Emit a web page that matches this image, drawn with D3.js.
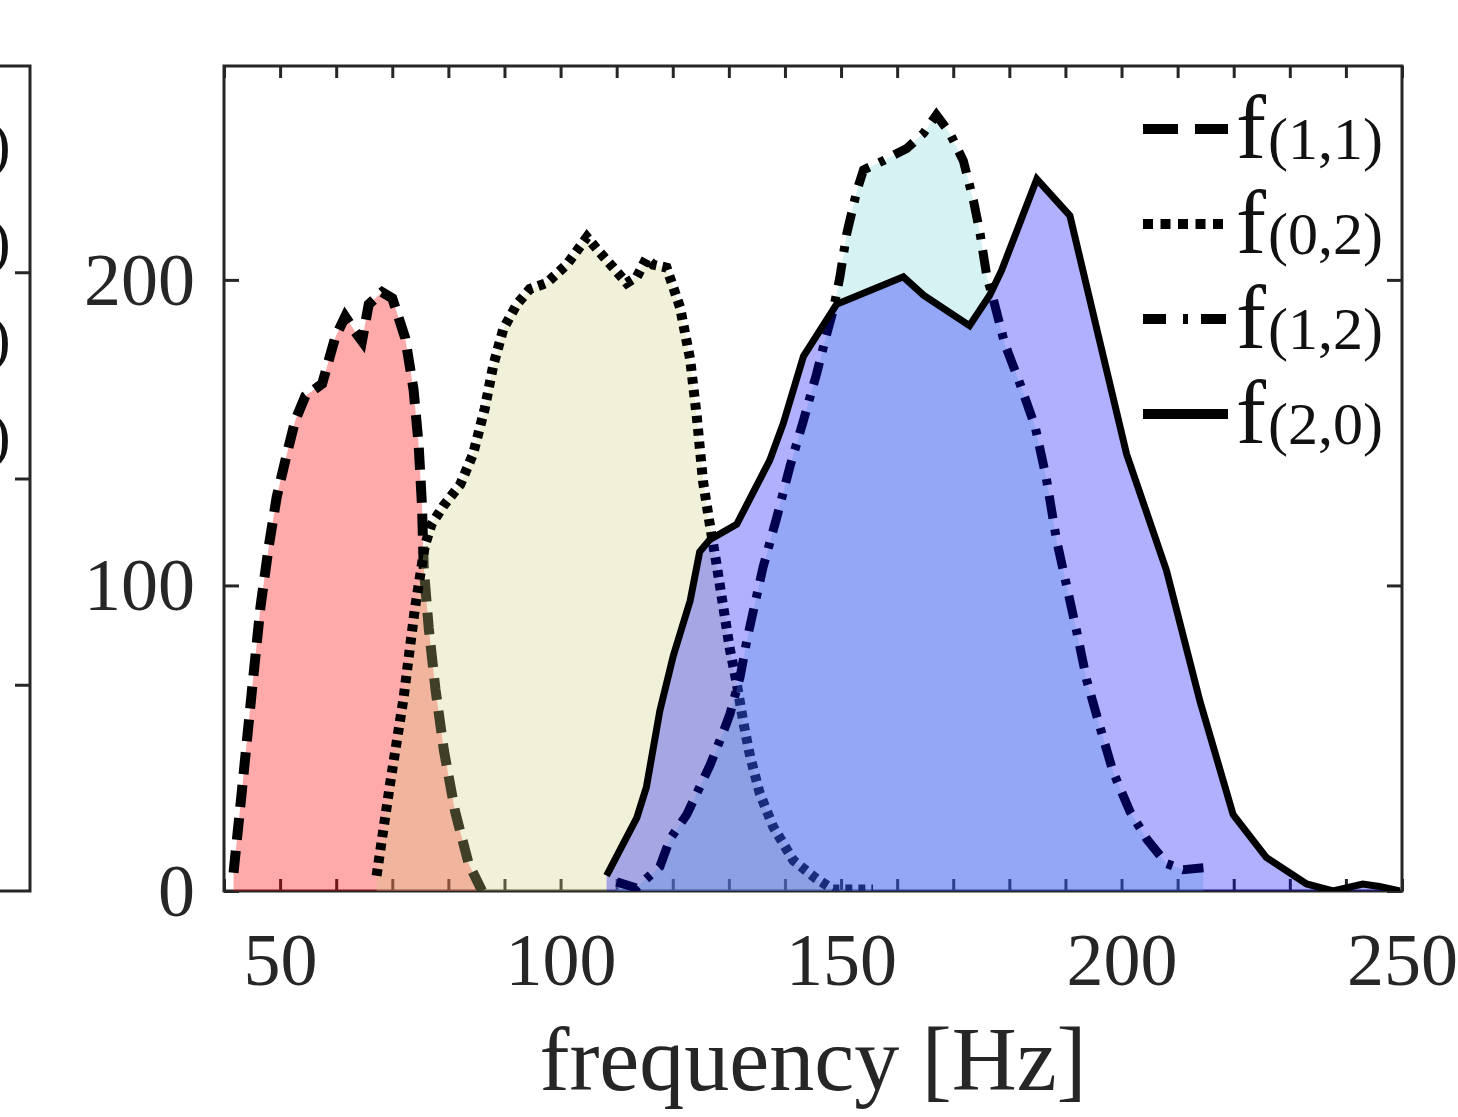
<!DOCTYPE html>
<html>
<head>
<meta charset="utf-8">
<script src="https://cdn.jsdelivr.net/npm/d3@7"></script>
<style>
  html, body { margin: 0; padding: 0; background: #fff; }
  svg { display: block; font-family: "Liberation Serif", "DejaVu Serif", serif; }
</style>
</head>
<body>
<svg id="chart" width="1458" height="1117"></svg>
<script>
// ---- data: modal frequency distributions (frequency in Hz, count) ----
const f11Freq = [41.7, 43.2, 45.0, 46.5, 48.0, 49.4, 51.2, 52.7, 54.5, 57.5, 59.8, 61.6, 63.4, 64.6,
                 65.8, 68.2, 70.0, 72.3, 73.8, 74.7, 75.3, 75.6, 76.5, 77.7, 79.2, 81.2, 83.6, 86.0, 88.0];
const f11Count = [6, 33, 66, 93, 113, 129, 143, 154, 162, 166, 181, 188, 183, 180,
                  192, 196, 194, 181, 164, 146, 126, 106, 86, 66, 46, 26, 9, 0, 0];

const f02Freq = [67.2, 69.6, 72.0, 74.0, 75.8, 77.0, 79.1, 82.1, 84.4, 86.5, 88.0, 89.8, 92.2, 94.5,
                 97.5, 101.1, 104.7, 107.0, 109.4, 111.8, 113.6, 115.3, 116.5, 118.9, 121.3, 123.1,
                 124.3, 125.4, 126.6, 127.8, 129.0, 130.2, 131.4, 132.6, 133.8, 135.5, 137.9, 141.5,
                 145.6, 148.6, 155.7];
const f02Count = [5, 35, 63, 92, 113, 120, 126, 133, 143, 158, 172, 184, 192, 197,
                  199, 205, 214, 209, 204, 199, 201, 207, 205, 204, 191, 174,
                  155, 134, 120, 107, 93, 79, 68, 55, 44, 32, 21, 10,
                  4, 0.5, 0.5];

const f12Freq = [110.0, 113.5, 117.7, 119.5, 122.5, 124.8, 126.6, 129.0, 130.2, 132.0, 133.2, 134.4,
                 136.1, 138.5, 140.9, 143.3, 145.6, 147.4, 148.6, 149.8, 151.0, 152.8, 154.0, 157.5,
                 161.7, 164.7, 167.0, 169.4, 171.8, 173.6, 174.8, 176.0, 177.1, 179.2, 181.9, 184.6,
                 186.6, 188.4, 190.2, 192.0, 193.8, 196.1, 198.5, 201.5, 204.5, 208.0, 211.0, 214.6];
const f12Count = [3, 1, 8, 17, 25, 34, 41, 52, 58, 70, 82, 92,
                  106, 122, 139, 154, 169, 182, 190, 201, 215, 229, 236, 239,
                  243, 248, 254, 248, 239, 226, 215, 201, 194, 179, 166, 152,
                  135, 115, 100, 85, 69, 54, 39, 26, 17, 9, 7, 7.6];

const f20Freq = [108.2, 113.6, 115.3, 117.7, 120.1, 123.1, 124.8, 126.6, 131.4, 137.3, 139.7, 143.3,
                 149.2, 161.1, 164.7, 172.9, 176.5, 178.6, 184.9, 190.8, 196.1, 200.9, 208.0, 214.0,
                 219.9, 225.8, 233.0, 237.7, 243.0, 246.0, 249.6];
const f20Count = [5, 24, 34, 59, 77, 95, 111, 115, 120, 141, 153, 175,
                  192, 201, 195, 185, 195, 203, 233, 221, 180, 143, 105, 62,
                  25, 11, 2.3, 0, 2.3, 1.5, 0];

const seriesLabels = ["(1,1)", "(0,2)", "(1,2)", "(2,0)"];

// axis ticks
const xMinorTicks = d3.range(40, 251, 10);
const xLabelTicks = [50, 100, 150, 200, 250];
const yLabelTicks = [0, 100, 200];
const leftPanelTicks = [1, 2, 3];

// ---- styles per series (drawn in this order) ----
const styles = [
  { fill: "rgba(255,0,0,0.333)",     dash: "22 11",        width: 10, legendDash: "35 17" },
  { fill: "rgba(210,210,133,0.30)",  dash: "7 6",          width: 10, legendDash: "10 7.5" },
  { fill: "rgba(122,212,212,0.30)",  dash: "23 11 6 11",   width: 9,  legendDash: "23 17 5 13 25" },
  { fill: "rgba(0,0,255,0.31)",      dash: null,           width: 7,  legendDash: null }
];

const series = [
  { freq: f11Freq, count: f11Count },
  { freq: f02Freq, count: f02Count },
  { freq: f12Freq, count: f12Count },
  { freq: f20Freq, count: f20Count }
].map((s, i) => ({
  label: seriesLabels[i],
  points: s.freq.map((f, j) => ({ f: f, c: s.count[j] })),
  style: styles[i]
}));

// ---- layout ----
const svg = d3.select("#chart");
const plot = { left: 224, right: 1402, top: 66, bottom: 891 };
const axisColor = "#262626";

const x = d3.scaleLinear().domain([40, 250]).range([plot.left, plot.right]);
const y = d3.scaleLinear().domain([0, 270]).range([plot.bottom, plot.top]);

svg.append("rect").attr("width", 1458).attr("height", 1117).attr("fill", "#fff");

// ---- neighbouring panel (only its right edge is in view) ----
const leftScale = d3.scaleLinear().domain([0, 4]).range([plot.bottom, plot.top]);
const leftPanel = svg.append("g");
leftPanel.append("path")
  .attr("d", `M0,${plot.top} H30 V${plot.bottom} H0`)
  .attr("fill", "none").attr("stroke", axisColor).attr("stroke-width", 3);
const leftAxis = leftPanel.append("g").attr("transform", "translate(30,0)")
  .call(d3.axisRight(leftScale).tickValues(leftPanelTicks).tickSize(-15).tickSizeOuter(0).tickFormat(""));
leftAxis.select(".domain").remove();
leftAxis.selectAll(".tick line").attr("stroke", axisColor).attr("stroke-width", 3);
seriesLabels.forEach((lab, i) => {
  leftPanel.append("text")
    .attr("x", -10).attr("y", 165 + i * 97)
    .attr("font-size", 62).attr("fill", "#111")
    .text(")");
});

// ---- axes frame and ticks (drawn beneath the data) ----
const axes = svg.append("g");

function styleAxis(g) {
  g.select(".domain").remove();
  g.selectAll(".tick line").attr("stroke", axisColor).attr("stroke-width", 3);
  g.selectAll(".tick text").attr("fill", axisColor).attr("font-size", 74)
    .attr("font-family", "'Liberation Serif', 'DejaVu Serif', serif");
}

axes.append("g").attr("transform", `translate(0,${plot.bottom})`)
  .call(d3.axisBottom(x).tickValues(xMinorTicks).tickSize(-12).tickSizeOuter(0).tickFormat(""))
  .call(styleAxis);
axes.append("g").attr("transform", `translate(0,${plot.top})`)
  .call(d3.axisTop(x).tickValues(xMinorTicks).tickSize(-12).tickSizeOuter(0).tickFormat(""))
  .call(styleAxis);

const xLab = axes.append("g").attr("transform", `translate(0,${plot.bottom})`)
  .call(d3.axisBottom(x).tickValues(xLabelTicks).tickSize(0).tickSizeOuter(0).tickFormat(d3.format("d")))
  .call(styleAxis);
xLab.selectAll(".tick text").attr("y", 94).attr("dy", null);

const yLeft = axes.append("g").attr("transform", `translate(${plot.left},0)`)
  .call(d3.axisLeft(y).tickValues(yLabelTicks).tickSize(-15).tickSizeOuter(0).tickPadding(29).tickFormat(d3.format("d")))
  .call(styleAxis);
yLeft.selectAll(".tick text").attr("dy", "0.33em");

axes.append("g").attr("transform", `translate(${plot.right},0)`)
  .call(d3.axisRight(y).tickValues(yLabelTicks).tickSize(-15).tickSizeOuter(0).tickFormat(""))
  .call(styleAxis);

axes.append("rect")
  .attr("x", plot.left).attr("y", plot.top)
  .attr("width", plot.right - plot.left).attr("height", plot.bottom - plot.top)
  .attr("fill", "none").attr("stroke", axisColor).attr("stroke-width", 3);

// x axis title
svg.append("text")
  .attr("x", (plot.left + plot.right) / 2).attr("y", 1090)
  .attr("text-anchor", "middle").attr("font-size", 90).attr("fill", axisColor)
  .text("frequency [Hz]");

// ---- data: filled areas and outlines ----
svg.append("clipPath").attr("id", "plotClip")
  .append("rect")
  .attr("x", plot.left).attr("y", plot.top)
  .attr("width", plot.right - plot.left).attr("height", plot.bottom - plot.top);

const area = d3.area().x(d => x(d.f)).y0(y(0)).y1(d => y(d.c));
const line = d3.line().x(d => x(d.f)).y(d => y(d.c));

const dataLayer = svg.append("g").attr("clip-path", "url(#plotClip)");
series.forEach(s => {
  dataLayer.append("path")
    .attr("d", area(s.points))
    .attr("fill", s.style.fill)
    .attr("stroke", "none");
  dataLayer.append("path")
    .attr("d", line(s.points))
    .attr("fill", "none")
    .attr("stroke", "#000")
    .attr("stroke-width", s.style.width)
    .attr("stroke-linejoin", "miter")
    .attr("stroke-dasharray", s.style.dash);
});

// ---- legend ----
const legend = svg.append("g");
series.forEach((s, i) => {
  const base = 158 + i * 95;
  legend.append("line")
    .attr("x1", 1143).attr("x2", 1228)
    .attr("y1", base - 29).attr("y2", base - 29)
    .attr("stroke", "#000").attr("stroke-width", 10)
    .attr("stroke-dasharray", s.style.legendDash);
  legend.append("text")
    .attr("x", 1236).attr("y", base)
    .attr("font-size", 90).attr("fill", "#111")
    .text("f");
  legend.append("text")
    .attr("x", 1268).attr("y", base + 1)
    .attr("font-size", 60).attr("fill", "#111")
    .text(s.label);
});
</script>
</body>
</html>
